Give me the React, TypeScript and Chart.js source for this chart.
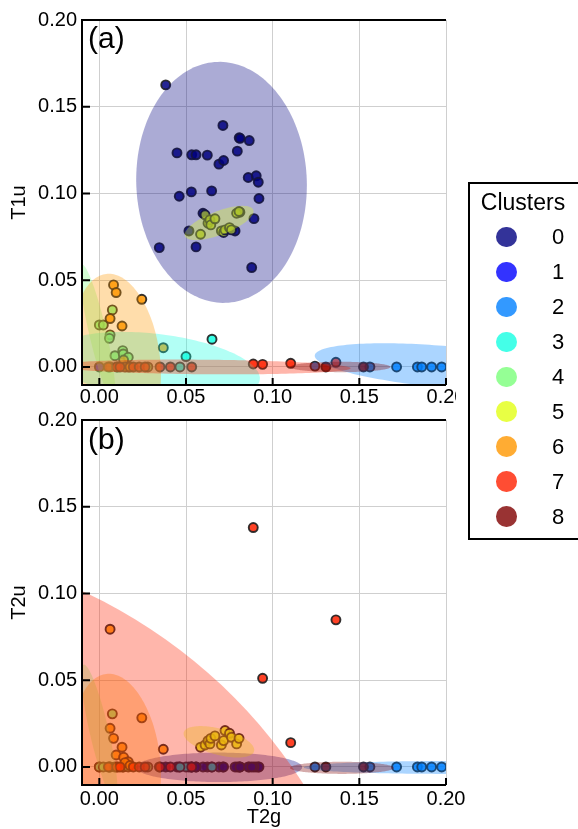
import React, { useEffect, useRef } from 'react';
import { Chart, registerables } from 'chart.js';

Chart.register(...registerables);

// ---------------- DATA ----------------
const CLUSTER_IDS = [0, 1, 2, 3, 4, 5, 6, 7, 8];
const LEGEND_TITLE = 'Clusters';
const LEGEND_LABELS = ['0', '1', '2', '3', '4', '5', '6', '7', '8'];
const X_TITLE = 'T2g';
const Y_TITLE_A = 'T1u';
const Y_TITLE_B = 'T2u';
const PANEL_A = '(a)';
const PANEL_B = '(b)';

const TICK_VALUES = [0, 0.05, 0.1, 0.15, 0.2];
const TICK_LABELS = ['0.00', '0.05', '0.10', '0.15', '0.20'];
const X_MIN = -0.01;
const X_MAX = 0.2;
const Y_MIN = -0.0104;
const Y_MAX = 0.2;

// cluster 0
const C0_T2G = [0.0383, 0.0713, 0.0807, 0.0812, 0.0865, 0.0448, 0.0533, 0.0558, 0.0623, 0.0796, 0.069, 0.0717, 0.0859, 0.0905, 0.0917, 0.0461, 0.0531, 0.0648, 0.0921, 0.0598, 0.0892, 0.0517, 0.0346, 0.0558, 0.0879, 0.0783, 0.0811];
const C0_T1U = [0.1626, 0.1392, 0.1321, 0.1318, 0.1305, 0.1234, 0.1223, 0.1223, 0.1221, 0.1244, 0.1169, 0.119, 0.1092, 0.1102, 0.1065, 0.0984, 0.1009, 0.1015, 0.0971, 0.0886, 0.0855, 0.0784, 0.0688, 0.0692, 0.0573, 0.0784, 0.0892];
const C0_T2U = [0, 0, 0, 0, 0, 0, 0, 0, 0, 0, 0, 0, 0, 0, 0, 0, 0, 0, 0, 0, 0, 0, 0, 0, 0, 0, 0];
// cluster 1
const C1_T2G = [0.0];
const C1_T1U = [0.0];
const C1_T2U = [0.0];
// cluster 2
const C2_T2G = [0.1244, 0.1561, 0.1715, 0.1835, 0.186, 0.1917, 0.1975];
const C2_T1U = [0.0005, 0, 0, 0, 0, 0, 0];
const C2_T2U = [0, 0, 0, 0, 0, 0, 0];
// cluster 3
const C3_T2G = [0.065, 0.05, 0.0465];
const C3_T1U = [0.016, 0.006, 0.0];
const C3_T2U = [0, 0, 0];
// cluster 4
const C4_T2G = [0.0075, 0.0, 0.0023, 0.0062, 0.0058, 0.009, 0.0135, 0.0138, 0.0167, 0.028];
const C4_T1U = [0.0329, 0.0242, 0.0242, 0.0185, 0.0165, 0.0065, 0.0094, 0.0075, 0.0056, 0.0];
const C4_T2U = [0.0306, 0, 0, 0, 0, 0, 0, 0, 0, 0];
// cluster 5
const C5_T2G = [0.0584, 0.061, 0.0627, 0.0638, 0.0643, 0.0667, 0.0704, 0.0717, 0.0725, 0.0751, 0.0762, 0.0792, 0.0806];
const C5_T1U = [0.0765, 0.0877, 0.0829, 0.0848, 0.0819, 0.0854, 0.0784, 0.0775, 0.079, 0.0803, 0.079, 0.0886, 0.0896];
const C5_T2U = [0.0114, 0.0127, 0.0152, 0.0133, 0.0165, 0.0179, 0.0127, 0.0152, 0.021, 0.0194, 0.0171, 0.0133, 0.0165];
// cluster 6
const C6_T2G = [0.0062, 0.0082, 0.0097, 0.0131, 0.014, 0.0245, 0.0369, 0.0062, 0.0167, 0.0148, 0.0177, 0.0105];
const C6_T1U = [0.0279, 0.0473, 0.0429, 0.0236, 0.004, 0.039, 0.0111, 0.0, 0.0, 0.0, 0.0, 0.0];
const C6_T2U = [0.0794, 0.0165, 0.0069, 0.0114, 0.0056, 0.0283, 0.0102, 0.0223, 0.003, 0.0025, 0.0008, 0.0];
// cluster 7
const C7_T2G = [0.0888, 0.0942, 0.1104, 0.1365, 0.0052, 0.01, 0.0119, 0.0196, 0.023, 0.0264, 0.035, 0.041, 0.0533];
const C7_T1U = [0.0017, 0.0015, 0.0021, 0.0027, 0, 0, 0, 0, 0, 0, 0, 0, 0];
const C7_T2U = [0.138, 0.0511, 0.014, 0.0848, 0, 0, 0, 0, 0, 0, 0, 0, 0];
// cluster 8
const C8_T2G = [0.1307, 0.1524];
const C8_T1U = [0, 0];
const C8_T2U = [0, 0];

// cluster ellipses (data units): centre, semi-axis along angle, other semi-axis, angle (deg)
const A_ELL_K = [0, 2, 3, 4, 5, 6, 7, 8];
const A_ELL_CX = [0.0705, 0.2, 0.033, -0.001, 0.0691, 0.01, 0.06, 0.139];
const A_ELL_CY = [0.1064, 0.0, 0.0, 0.02, 0.083, 0.004, 0.0, 0.0];
const A_ELL_A = [0.0695, 0.076, 0.06, 0.04, 0.0211, 0.05, 0.085, 0.029];
const A_ELL_B = [0.0492, 0.012, 0.019, 0.005, 0.0068, 0.025, 0.0042, 0.003];
const A_ELL_ANG = [92, -5, -7, 103, 21, 97, -0.5, 0];

const B_ELL_K = [0, 2, 4, 5, 6, 7, 8];
const B_ELL_CX = [0.069, 0.2, 0.0, 0.069, 0.01, -0.14, 0.14];
const B_ELL_CY = [-0.0002, -0.0003, 0.02, 0.0145, 0.004, -0.165, -0.0005];
const B_ELL_A = [0.048, 0.082, 0.04, 0.021, 0.05, 0.303, 0.03];
const B_ELL_B = [0.0085, 0.0037, 0.0055, 0.0075, 0.025, 0.295, 0.0035];
const B_ELL_ANG = [0, 0, 103, -15, 97, 0, 0];

// ---------------- STYLE ----------------
const JET = [
  [0, 0, 128], [0, 0, 255], [0, 128, 255], [21, 255, 226], [123, 255, 123],
  [226, 255, 21], [255, 151, 0], [255, 33, 0], [128, 0, 0],
];
const FONT = "'Liberation Sans', Arial, Helvetica, sans-serif";
const rgba = (c: number[], a: number) => `rgba(${c[0]},${c[1]},${c[2]},${a})`;

const T2G = [C0_T2G, C1_T2G, C2_T2G, C3_T2G, C4_T2G, C5_T2G, C6_T2G, C7_T2G, C8_T2G];
const T1U = [C0_T1U, C1_T1U, C2_T1U, C3_T1U, C4_T1U, C5_T1U, C6_T1U, C7_T1U, C8_T1U];
const T2U = [C0_T2U, C1_T2U, C2_T2U, C3_T2U, C4_T2U, C5_T2U, C6_T2U, C7_T2U, C8_T2U];

function makeDatasets(Y: number[][]) {
  return CLUSTER_IDS.map((k) => ({
    label: LEGEND_LABELS[k],
    data: T2G[k].map((x, i) => ({ x, y: Y[k][i] })),
    backgroundColor: rgba(JET[k], 0.85),
    borderColor: 'rgba(30,30,30,0.9)',
    borderWidth: 1.9,
    pointRadius: 4.5,
    pointHoverRadius: 4.5,
    order: 8 - k,
  }));
}

function ellipsePlugin(K: number[], CX: number[], CY: number[], A: number[], B: number[], ANG: number[]) {
  return {
    id: 'ellipses',
    afterDatasetsDraw(chart: any) {
      const { ctx, chartArea: ca, scales } = chart;
      const xs = scales.x, ys = scales.y;
      ctx.save();
      ctx.beginPath();
      ctx.rect(ca.left, ca.top, ca.right - ca.left, ca.bottom - ca.top);
      ctx.clip();
      K.forEach((k, j) => {
        const th = (ANG[j] * Math.PI) / 180;
        ctx.beginPath();
        const n = 180;
        for (let i = 0; i <= n; i++) {
          const t = (i / n) * Math.PI * 2;
          const dx = A[j] * Math.cos(t), dy = B[j] * Math.sin(t);
          const vx = CX[j] + dx * Math.cos(th) - dy * Math.sin(th);
          const vy = CY[j] + dx * Math.sin(th) + dy * Math.cos(th);
          const px = xs.getPixelForValue(vx), py = ys.getPixelForValue(vy);
          if (i === 0) ctx.moveTo(px, py); else ctx.lineTo(px, py);
        }
        ctx.closePath();
        ctx.fillStyle = rgba(JET[k], 0.33);
        ctx.fill();
      });
      ctx.restore();
    },
  };
}

function framePlugin(letter: string, letterDy: number) {
  return {
    id: 'frame',
    afterDraw(chart: any) {
      const { ctx, chartArea: ca, scales } = chart;
      const { left: l, right: r, top: t, bottom: b } = ca;
      ctx.save();
      ctx.strokeStyle = '#000';
      ctx.lineWidth = 2;
      ctx.beginPath();
      ctx.moveTo(l, b); ctx.lineTo(l, t - 1);
      ctx.moveTo(l - 1, t); ctx.lineTo(r, t);
      ctx.moveTo(l - 1, b); ctx.lineTo(r, b);
      TICK_VALUES.forEach((v) => {
        const px = scales.x.getPixelForValue(v);
        ctx.moveTo(px, b); ctx.lineTo(px, b - 7);
        const py = scales.y.getPixelForValue(v);
        ctx.moveTo(l, py); ctx.lineTo(l + 8, py);
      });
      ctx.stroke();
      ctx.fillStyle = '#000';
      ctx.font = `30px ${FONT}`;
      ctx.textBaseline = 'middle';
      ctx.textAlign = 'left';
      ctx.fillText(letter, l + 6, t + letterDy);
      ctx.restore();
    },
  };
}

function makeConfig(Y: number[][], yTitle: string, showXTitle: boolean, xHeight: number, padTop: number, xPad: number, plugins: any[]) {
  const tickFont = { family: FONT, size: 20 };
  return {
    type: 'scatter' as const,
    data: { datasets: makeDatasets(Y) },
    options: {
      responsive: false,
      animation: false as const,
      events: [],
      layout: { padding: { left: 0, right: 132, top: padTop, bottom: 0 } },
      plugins: { legend: { display: false }, tooltip: { enabled: false } },
      scales: {
        x: {
          type: 'linear' as const,
          min: X_MIN,
          max: X_MAX,
          afterBuildTicks: (s: any) => { s.ticks = TICK_VALUES.map((v) => ({ value: v })); },
          afterFit: (s: any) => { s.height = xHeight; },
          ticks: {
            autoSkip: false,
            maxRotation: 0,
            color: '#000',
            font: tickFont,
            padding: xPad,
            callback: (_v: any, i: number) => TICK_LABELS[i],
          },
          grid: { color: '#cfcfcf', lineWidth: 1, drawTicks: false },
          border: { display: false },
          title: {
            display: showXTitle,
            text: X_TITLE,
            color: '#000',
            font: { family: FONT, size: 20 },
            padding: { top: 0, bottom: 0 },
          },
        },
        y: {
          type: 'linear' as const,
          min: Y_MIN,
          max: Y_MAX,
          afterBuildTicks: (s: any) => { s.ticks = TICK_VALUES.map((v) => ({ value: v })); },
          afterFit: (s: any) => { s.width = 82; },
          ticks: {
            autoSkip: false,
            color: '#000',
            font: tickFont,
            padding: 5,
            callback: (_v: any, i: number) => TICK_LABELS[i],
          },
          grid: { color: '#cfcfcf', lineWidth: 1, drawTicks: false },
          border: { display: false },
          title: {
            display: true,
            text: yTitle,
            color: '#000',
            font: { family: FONT, size: 20 },
            padding: { top: 7, bottom: 0 },
          },
        },
      },
    },
    plugins,
  };
}

export default function App() {
  const refA = useRef<HTMLCanvasElement | null>(null);
  const refB = useRef<HTMLCanvasElement | null>(null);

  useEffect(() => {
    const chA = new Chart(refA.current as HTMLCanvasElement, makeConfig(T1U, Y_TITLE_A, false, 25, 20, 0, [
      ellipsePlugin(A_ELL_K, A_ELL_CX, A_ELL_CY, A_ELL_A, A_ELL_B, A_ELL_ANG),
      framePlugin(PANEL_A, 20),
    ]) as any);
    const chB = new Chart(refB.current as HTMLCanvasElement, makeConfig(T2U, Y_TITLE_B, true, 44, 20, 2, [
      ellipsePlugin(B_ELL_K, B_ELL_CX, B_ELL_CY, B_ELL_A, B_ELL_B, B_ELL_ANG),
      framePlugin(PANEL_B, 21),
    ]) as any);
    return () => { chA.destroy(); chB.destroy(); };
  }, []);

  const rowTop = 237;
  const rowGap = 34.95;

  return (
    <div style={{ position: 'fixed', left: 0, top: 0, width: 578, height: 829, overflow: 'hidden', background: '#fff', fontFamily: FONT }}>
      <div style={{ position: 'absolute', left: 0, top: 0, width: 456, height: 410, overflow: 'hidden' }}>
        <canvas ref={refA} width={578} height={410} style={{ display: 'block', width: 578, height: 410 }} />
      </div>
      <div style={{ position: 'absolute', left: 0, top: 400, width: 578, height: 429 }}>
        <canvas ref={refB} width={578} height={429} style={{ display: 'block', width: 578, height: 429 }} />
      </div>
      <div style={{ position: 'absolute', left: 468, top: 182, width: 140, height: 358, border: '2px solid #000', boxSizing: 'border-box', background: '#fff' }} />
      <div style={{ position: 'absolute', left: 463, top: 187, width: 120, height: 30, lineHeight: '30px', textAlign: 'center', fontSize: 23, color: '#000' }}>
        {LEGEND_TITLE}
      </div>
      {CLUSTER_IDS.map((k) => {
        const cy = rowTop + rowGap * k;
        return (
          <React.Fragment key={k}>
            <div style={{ position: 'absolute', left: 506.7 - 10.3, top: cy - 10.3, width: 20.6, height: 20.6, borderRadius: '50%', background: rgba(JET[k], 0.8) }} />
            <div style={{ position: 'absolute', left: 538, top: cy - 15, width: 40, height: 30, lineHeight: '30px', textAlign: 'center', fontSize: 22, color: '#000' }}>
              {LEGEND_LABELS[k]}
            </div>
          </React.Fragment>
        );
      })}
    </div>
  );
}
